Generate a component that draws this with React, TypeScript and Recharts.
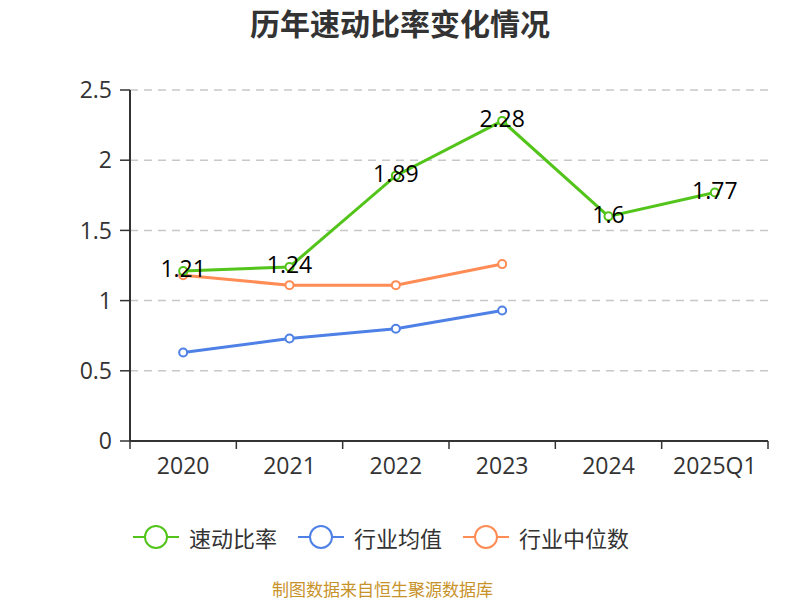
import * as React from "react";
import { LineChart, Line, XAxis, YAxis, CartesianGrid, LabelList } from "recharts";

const categories = ["2020", "2021", "2022", "2023", "2024", "2025Q1"];
const quickRatio = [1.21, 1.24, 1.89, 2.28, 1.6, 1.77];
const industryAvg = [0.63, 0.73, 0.8, 0.93, null, null];
const industryMedian = [1.18, 1.11, 1.11, 1.26, null, null];
const yTicks = [0, 0.5, 1, 1.5, 2, 2.5];

const GREEN = "#52c41a";
const BLUE = "#4e80e6";
const ORANGE = "#ff8c55";
const AXIS = "#333";
const FONT = "'Noto Sans CJK SC', 'Noto Sans', sans-serif";
const NUM_FONT = "'Open Sans', 'Noto Sans', sans-serif";

const W = 800;
const H = 600;
const M = { top: 90, right: 32, bottom: 129, left: 0 };
const Y_W = 130;
const X_H = 30;
const PLOT_W = W - M.left - M.right - Y_W;
const PLOT_BOTTOM = H - M.bottom - X_H;
const BAND = PLOT_W / categories.length;

const data = categories.map((c, i) => ({
  name: c,
  quick: quickRatio[i],
  avg: industryAvg[i],
  median: industryMedian[i],
}));

const legendItems = [
  { label: "速动比率", color: GREEN },
  { label: "行业均值", color: BLUE },
  { label: "行业中位数", color: ORANGE },
];

function XTick(props: any) {
  const { x, payload, index } = props;
  const last = index === categories.length - 1;
  return (
    <g>
      <line x1={x - BAND / 2} x2={x - BAND / 2} y1={PLOT_BOTTOM} y2={PLOT_BOTTOM + 8} stroke={AXIS} strokeWidth={1.5} />
      {last && (
        <line x1={x + BAND / 2} x2={x + BAND / 2} y1={PLOT_BOTTOM} y2={PLOT_BOTTOM + 8} stroke={AXIS} strokeWidth={1.5} />
      )}
      <text x={x} y={PLOT_BOTTOM + 33} textAnchor="middle" fontSize={23} fill={AXIS} fontFamily={NUM_FONT}>
        {payload.value}
      </text>
    </g>
  );
}

function LegendIcon({ color }: { color: string }) {
  return (
    <svg width={46} height={26} style={{ marginRight: 10 }}>
      <line x1={0} x2={46} y1={13} y2={13} stroke={color} strokeWidth={2} />
      <circle cx={23} cy={13} r={11} fill="#fff" stroke={color} strokeWidth={2} />
    </svg>
  );
}

export default function App() {
  const dot = (color: string) => ({ r: 4, fill: "#fff", stroke: color, strokeWidth: 2 });
  return (
    <div style={{ position: "absolute", left: 0, top: 0, width: W, height: H, background: "#fff", fontFamily: FONT }}>
      <div
        style={{
          position: "absolute",
          top: 3,
          width: W,
          textAlign: "center",
          fontSize: 30,
          lineHeight: "38px",
          fontWeight: "bold",
          color: AXIS,
        }}
      >
        历年速动比率变化情况
      </div>
      <LineChart width={W} height={H} data={data} margin={M}>
        <CartesianGrid vertical={false} stroke="#c8c8c8" strokeDasharray="8 6" strokeWidth={1.5} />
        <XAxis
          dataKey="name"
          axisLine={{ stroke: AXIS, strokeWidth: 2 }}
          tickLine={false}
          tick={<XTick />}
          height={X_H}
          interval={0}
          padding={{ left: BAND / 2, right: BAND / 2 }}
        />
        <YAxis
          domain={[0, 2.5]}
          ticks={yTicks}
          width={Y_W}
          axisLine={{ stroke: AXIS, strokeWidth: 2 }}
          tickLine={{ stroke: AXIS, strokeWidth: 1.5 }}
          tickSize={10}
          tickMargin={8}
          tick={{ fontSize: 23, fill: AXIS, fontFamily: NUM_FONT }}
        />
        <Line
          dataKey="median"
          stroke={ORANGE}
          strokeWidth={3}
          dot={dot(ORANGE)}
          activeDot={false}
          isAnimationActive={false}
        />
        <Line
          dataKey="avg"
          stroke={BLUE}
          strokeWidth={3}
          dot={dot(BLUE)}
          activeDot={false}
          isAnimationActive={false}
        />
        <Line
          dataKey="quick"
          stroke={GREEN}
          strokeWidth={3}
          dot={dot(GREEN)}
          activeDot={false}
          isAnimationActive={false}
        >
          <LabelList dataKey="quick" position="center" dy={-2} fontSize={23} fill="#000" fontFamily={NUM_FONT} />
        </Line>
      </LineChart>
      <div
        style={{
          position: "absolute",
          top: 523,
          left: 133,
          display: "flex",
          alignItems: "center",
          fontSize: 22,
          lineHeight: "28px",
          color: AXIS,
        }}
      >
        {legendItems.map((it) => (
          <div key={it.label} style={{ display: "flex", alignItems: "center", marginRight: 21 }}>
            <LegendIcon color={it.color} />
            <span>{it.label}</span>
          </div>
        ))}
      </div>
      <div
        style={{
          position: "absolute",
          top: 578,
          left: 272,
          fontSize: 17,
          lineHeight: "22px",
          whiteSpace: "nowrap",
          color: "#c8922a",
        }}
      >
        制图数据来自恒生聚源数据库
      </div>
    </div>
  );
}
